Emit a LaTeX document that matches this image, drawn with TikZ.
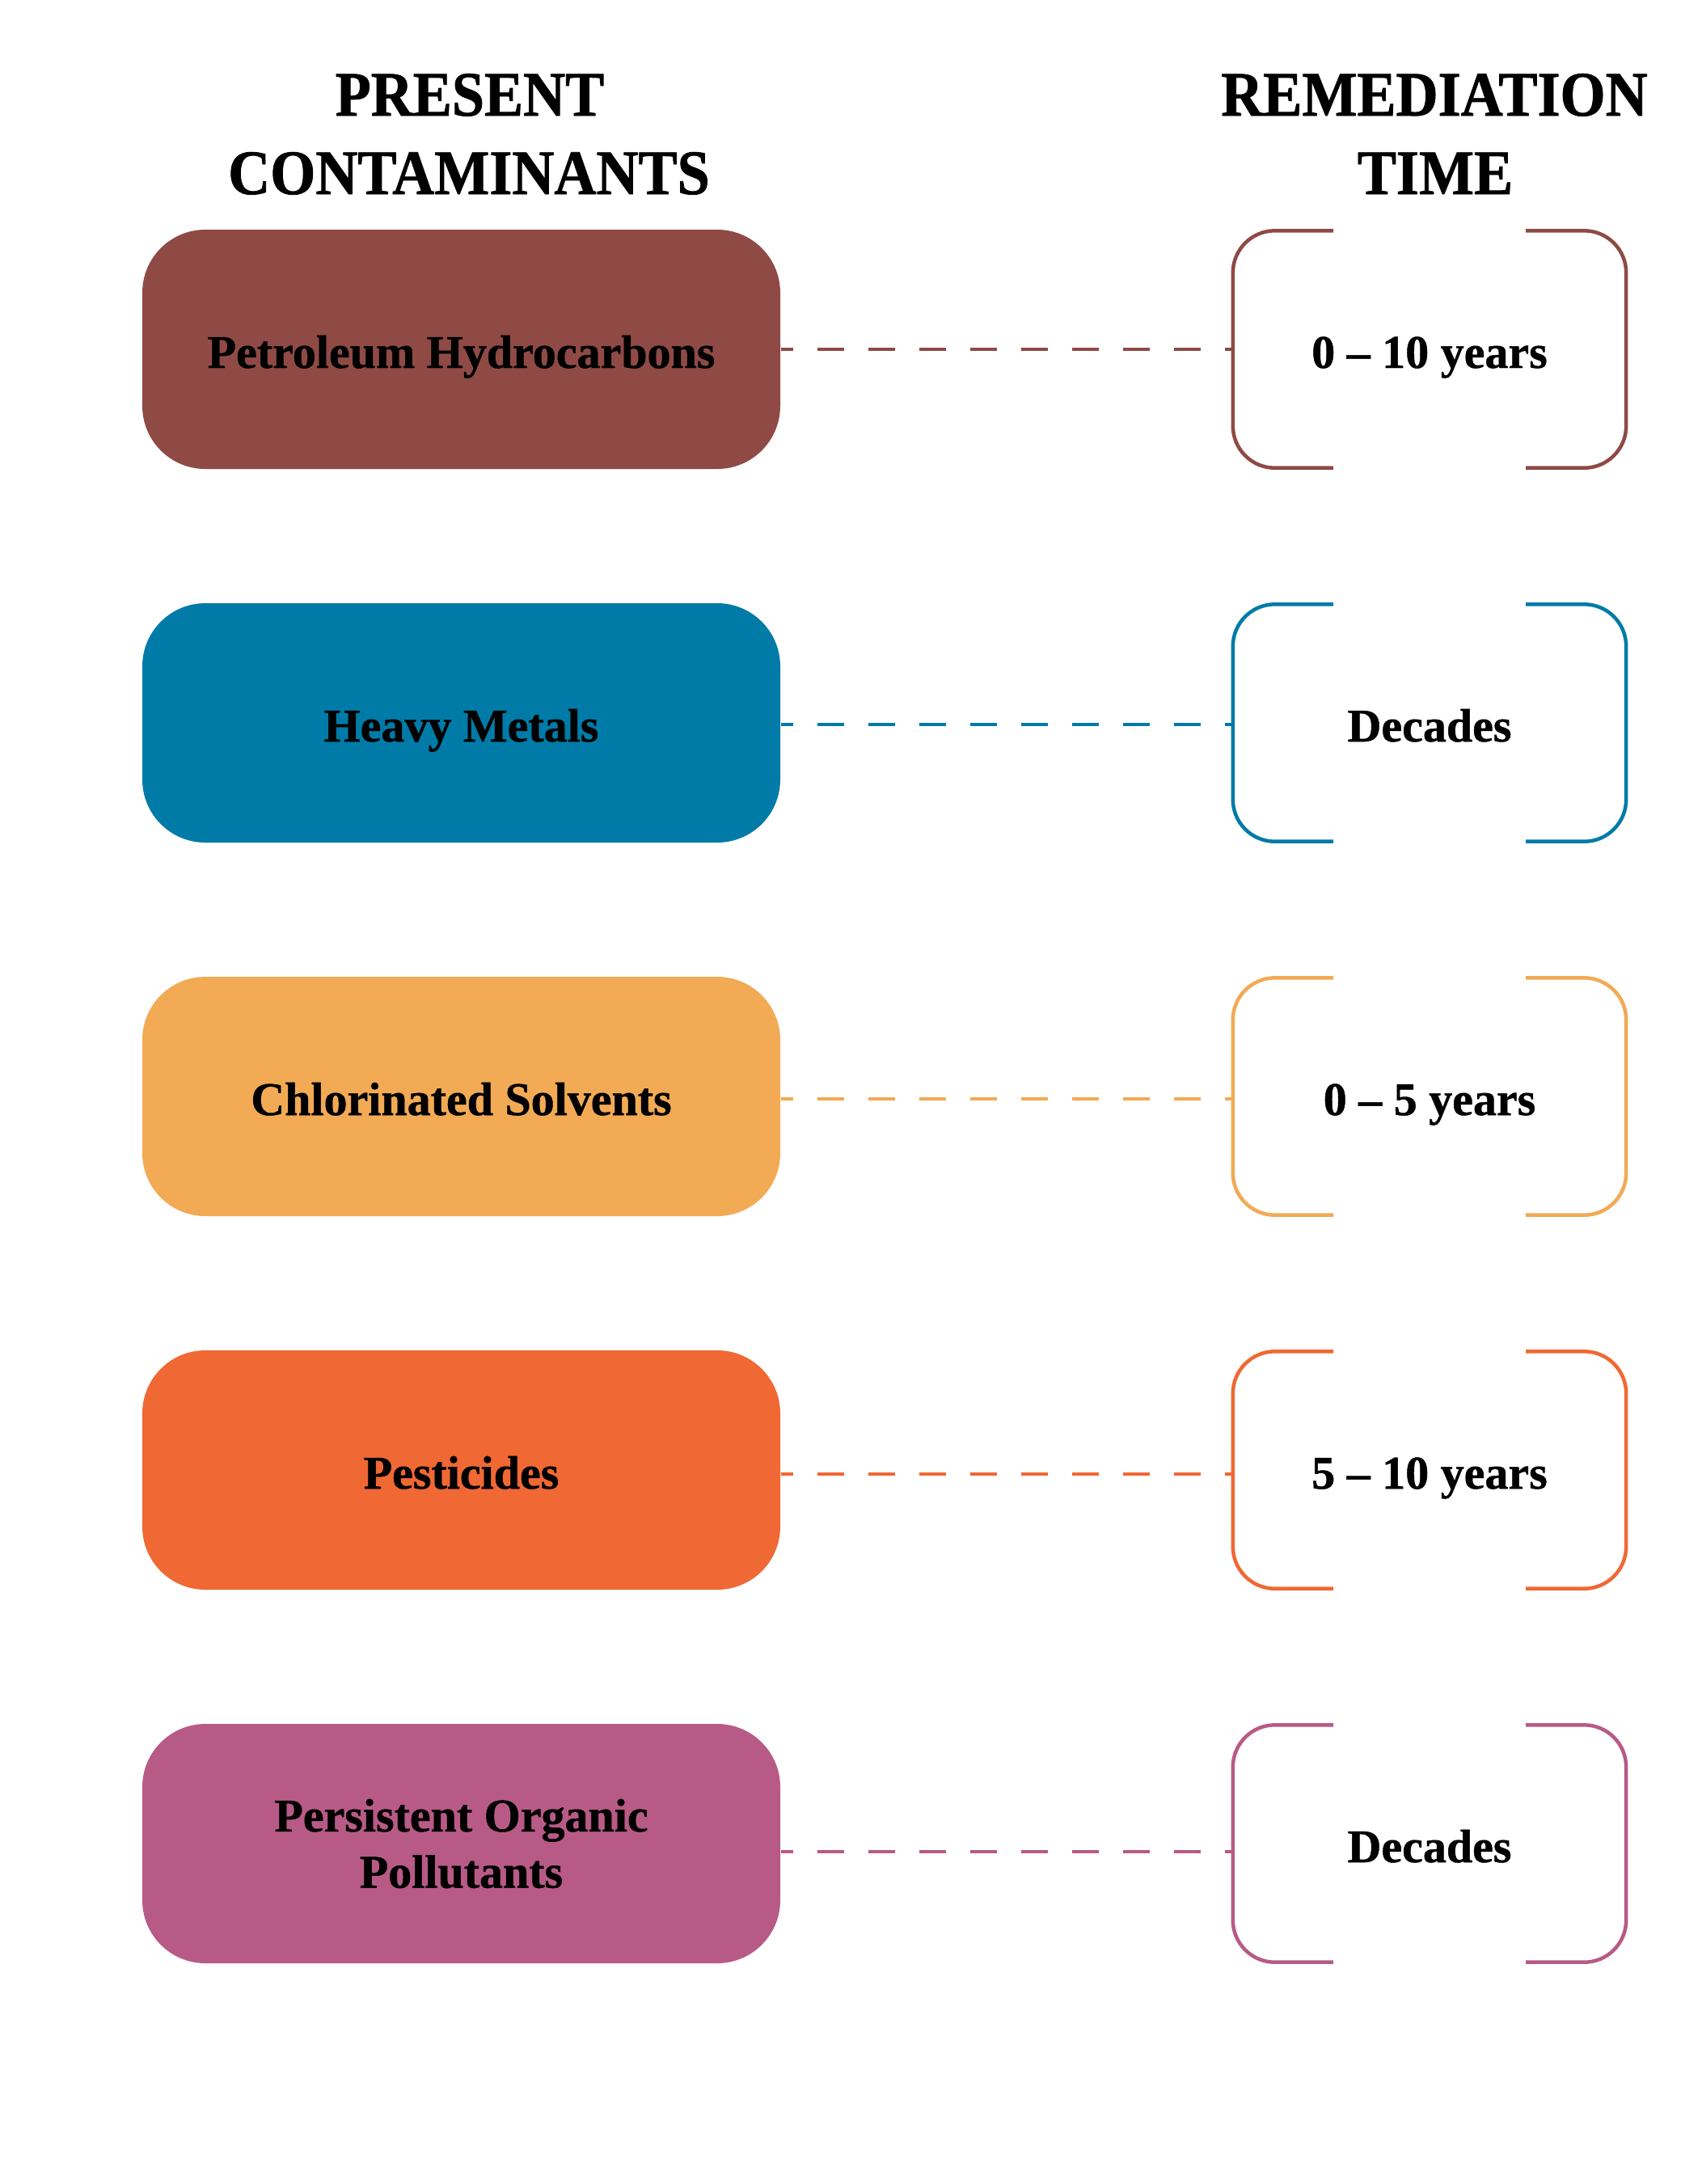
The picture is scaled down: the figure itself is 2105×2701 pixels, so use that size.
\documentclass[tikz,border=0pt]{standalone}
\usepackage{fontspec}
\setmainfont{Liberation Serif}
\newfontfamily\headfont{Liberation Serif Bold}[FakeStretch=0.92, FakeBold=1]
\newfontfamily\contamface{Liberation Serif Bold}[FakeBold=0.8]
\newcommand\contamfont{\contamface\fontsize{16.5}{19.8}\selectfont}
\definecolor{petrol}{HTML}{8F4A45}
\definecolor{metal}{HTML}{007BA7}
\definecolor{solvent}{HTML}{F2AA55}
\definecolor{pesticide}{HTML}{F06834}
\definecolor{pollutant}{HTML}{B85A86}

\begin{document}
\begin{tikzpicture}[x=0.1mm, y=-0.1mm,
   heading/.style={anchor=base, font=\headfont\fontsize{22.3}{26}\selectfont},
   contam/.style={fill=#1, rounded corners=7.8mm, minimum width=78.9mm, minimum height=29.6mm, inner sep=0pt, align=center, font=\contamfont},
   period/.style={minimum width=48.5mm, minimum height=29.2mm, inner sep=0pt, font=\contamfont},
   oneline/.style={text height=5.8mm, text depth=1.2mm},
   bracket/.style={draw=#1, line width=0.45mm, rounded corners=5.2mm},
   link/.style={draw=#1, line width=0.4mm, dash pattern=on 3.3mm off 3mm, dash phase=1.8mm}]
   \useasboundingbox (0,0) rectangle (2105,2701);
   % headings
   \node[heading] (presenthead) at (581,143) {PRESENT};
   \node[heading] (contamhead) at (580,240) {CONTAMINANTS};
   \node[heading] (remedhead) at (1774,143) {REMEDIATION};
   \node[heading] (timehead) at (1775,240) {TIME};
   % contaminants
   \node[contam=petrol, oneline] (petroleum) at (570.5,432) {Petroleum Hydrocarbons};
   \node[contam=metal, oneline] (metals) at (570.5,894) {Heavy Metals};
   \node[contam=solvent, oneline] (solvents) at (570.5,1356) {Chlorinated Solvents};
   \node[contam=pesticide, oneline] (pesticides) at (570.5,1818) {Pesticides};
   \node[contam=pollutant] (pops) at (570.5,2280) {Persistent Organic\\Pollutants};
   % remediation times
   \node[period, oneline] (petroleumtime) at (1768,432) {0 – 10 years};
   \node[period, oneline] (metalstime) at (1768,894) {Decades};
   \node[period, oneline] (solventstime) at (1768,1356) {0 – 5 years};
   \node[period, oneline] (pesticidestime) at (1768,1818) {5 – 10 years};
   \node[period, oneline] (popstime) at (1768,2280) {Decades};
   \draw[bracket=petrol] ([xshift=-11.9mm]petroleumtime.north) -- (petroleumtime.north west) -- (petroleumtime.south west) -- ([xshift=-11.9mm]petroleumtime.south);
   \draw[bracket=petrol] ([xshift=11.9mm]petroleumtime.north) -- (petroleumtime.north east) -- (petroleumtime.south east) -- ([xshift=11.9mm]petroleumtime.south);
   \draw[bracket=metal] ([xshift=-11.9mm]metalstime.north) -- (metalstime.north west) -- (metalstime.south west) -- ([xshift=-11.9mm]metalstime.south);
   \draw[bracket=metal] ([xshift=11.9mm]metalstime.north) -- (metalstime.north east) -- (metalstime.south east) -- ([xshift=11.9mm]metalstime.south);
   \draw[bracket=solvent] ([xshift=-11.9mm]solventstime.north) -- (solventstime.north west) -- (solventstime.south west) -- ([xshift=-11.9mm]solventstime.south);
   \draw[bracket=solvent] ([xshift=11.9mm]solventstime.north) -- (solventstime.north east) -- (solventstime.south east) -- ([xshift=11.9mm]solventstime.south);
   \draw[bracket=pesticide] ([xshift=-11.9mm]pesticidestime.north) -- (pesticidestime.north west) -- (pesticidestime.south west) -- ([xshift=-11.9mm]pesticidestime.south);
   \draw[bracket=pesticide] ([xshift=11.9mm]pesticidestime.north) -- (pesticidestime.north east) -- (pesticidestime.south east) -- ([xshift=11.9mm]pesticidestime.south);
   \draw[bracket=pollutant] ([xshift=-11.9mm]popstime.north) -- (popstime.north west) -- (popstime.south west) -- ([xshift=-11.9mm]popstime.south);
   \draw[bracket=pollutant] ([xshift=11.9mm]popstime.north) -- (popstime.north east) -- (popstime.south east) -- ([xshift=11.9mm]popstime.south);
   % dashed links
   \draw[link=petrol] (petroleum.east) -- (petroleumtime.west);
   \draw[link=metal] ([yshift=-0.2mm]metals.east) -- ([yshift=-0.2mm]metalstime.west);
   \draw[link=solvent] ([yshift=-0.3mm]solvents.east) -- ([yshift=-0.3mm]solventstime.west);
   \draw[link=pesticide] ([yshift=-0.5mm]pesticides.east) -- ([yshift=-0.5mm]pesticidestime.west);
   \draw[link=pollutant] ([yshift=-1mm]pops.east) -- ([yshift=-1mm]popstime.west);
\end{tikzpicture}
\end{document}
